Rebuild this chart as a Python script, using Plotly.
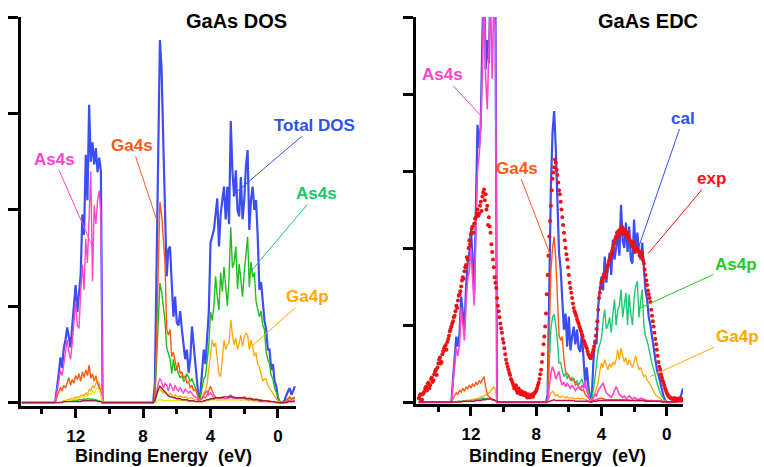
import numpy as np
import plotly.graph_objects as go

# Binding-energy grid (eV), 15.2 ... -1.0 in 0.1 eV steps
E = np.round(np.arange(152, -11, -1) / 10.0, 1)
# Experimental EDC energies: two interleaved sweeps
E_EXP = E
E_EXP2 = np.round(np.arange(1515, -96, -10) / 100.0, 2)   # 15.15 ... -0.95

# ---------------- GaAs DOS (left panel) ----------------
# each series: band1 = 13.2..10.4 eV, band2 = 7.4..4.6 eV, band3 = 4.5..-1.0 eV
dos_total_b1 = [0.02, 0.15, 0.30, 0.47, 0.36, 0.57, 0.65, 0.78, 0.65, 0.57, 0.80, 1.05, 1.22, 0.94, 1.10, 1.33, 1.95, 1.74, 2.57, 2.10, 3.09, 2.50, 2.70, 2.47, 2.64, 2.39, 2.54, 2.40, 0.0]
dos_total_b2 = [0.0, 0.2, 1.2, 2.6, 3.76, 3.45, 2.70, 2.0, 1.31, 1.59, 1.62, 1.24, 0.89, 1.10, 0.83, 0.80, 0.95, 0.76, 0.60, 0.45, 0.55, 0.31, 0.45, 0.79, 0.60, 0.40, 0.21, 0.03, 0.10]
dos_total_b3 = [0.35, 0.55, 0.40, 0.68, 0.95, 1.66, 1.72, 1.79, 1.95, 2.12,
                1.62, 1.95, 2.10, 2.24, 1.90, 2.24, 1.85, 2.92, 2.40, 2.14,
                2.41, 2.00, 1.93, 2.34, 1.90, 2.10, 2.45, 2.62, 1.79, 2.10,
                2.24, 2.00, 2.10, 1.72, 1.17, 1.25, 1.05, 0.85, 0.76, 0.55,
                0.55, 0.34, 0.40, 0.22, 0.17, 0.05, 0.0, 0.0, 0.0, 0.03,
                0.08, 0.12, 0.15, 0.08, 0.12, 0.17]

dos_as4s_b1 = [0.02, 0.12, 0.22, 0.33, 0.28, 0.42, 0.50, 0.65, 0.52, 0.45, 0.62, 0.85, 1.05, 0.80, 0.77, 1.15, 1.43, 1.17, 1.70, 1.45, 2.00, 2.40, 1.26, 2.05, 1.85, 2.10, 2.20, 1.95, 0.0]
dos_as4s_b2 = [0.0, 0.02, 0.12, 0.20, 0.25, 0.22, 0.15, 0.20, 0.18, 0.12, 0.20, 0.15, 0.12, 0.18, 0.14, 0.12, 0.16, 0.12, 0.10, 0.14, 0.12, 0.10, 0.12, 0.09, 0.07, 0.06, 0.05, 0.02, 0.03]
dos_as4s_b3 = [0.05, 0.08, 0.10, 0.12, 0.08, 0.10, 0.07, 0.05, 0.04, 0.03,
               0.03, 0.04, 0.03, 0.04, 0.03, 0.04, 0.05, 0.06, 0.05, 0.04,
               0.04, 0.03, 0.04, 0.03, 0.03, 0.04, 0.03, 0.03, 0.02, 0.03,
               0.02, 0.02, 0.02, 0.02, 0.01, 0.01, 0.01, 0.01, 0.01, 0.01,
               0.01, 0.01, 0.01, 0.0, 0.0, 0.0, 0.0, 0.0, 0.0, 0.0,
               0.01, 0.02, 0.02, 0.01, 0.02, 0.02]

dos_ga4s_b1 = [0.0, 0.06, 0.12, 0.16, 0.12, 0.18, 0.15, 0.22, 0.26, 0.18, 0.24, 0.20, 0.28, 0.24, 0.30, 0.22, 0.32, 0.26, 0.34, 0.28, 0.39, 0.25, 0.30, 0.22, 0.28, 0.20, 0.15, 0.10, 0.0]
dos_ga4s_b2 = [0.0, 0.05, 0.6, 1.4, 2.08, 1.95, 1.70, 1.45, 0.76, 0.70, 0.76, 0.48, 0.52, 0.44, 0.34, 0.42, 0.30, 0.32, 0.25, 0.28, 0.20, 0.22, 0.15, 0.18, 0.12, 0.14, 0.08, 0.04, 0.03]
dos_ga4s_b3 = [0.04, 0.06, 0.05, 0.08, 0.12, 0.17, 0.12, 0.08, 0.06, 0.05,
               0.04, 0.05, 0.06, 0.05, 0.04, 0.05, 0.07, 0.08, 0.06, 0.05,
               0.05, 0.04, 0.05, 0.04, 0.05, 0.06, 0.05, 0.04, 0.05, 0.04,
               0.04, 0.03, 0.04, 0.03, 0.03, 0.03, 0.02, 0.02, 0.02, 0.02,
               0.02, 0.01, 0.01, 0.01, 0.01, 0.01, 0.0, 0.0, 0.0, 0.01,
               0.03, 0.05, 0.06, 0.04, 0.05, 0.06]

dos_as4p_b1 = [0.0, 0.0, 0.0, 0.0, 0.01, 0.01, 0.01, 0.01, 0.02, 0.02, 0.02, 0.02, 0.03, 0.02, 0.03, 0.03, 0.03, 0.04, 0.03, 0.04, 0.04, 0.03, 0.04, 0.03, 0.03, 0.02, 0.02, 0.01, 0.0]
dos_as4p_b2 = [0.0, 0.03, 0.4, 0.9, 1.24, 1.15, 1.0, 0.85, 0.57, 0.52, 0.45, 0.30, 0.45, 0.33, 0.36, 0.30, 0.26, 0.28, 0.22, 0.24, 0.30, 0.26, 0.22, 0.25, 0.19, 0.15, 0.12, 0.03, 0.05]
dos_as4p_b3 = [0.15, 0.25, 0.27, 0.45, 0.60, 0.94, 0.85, 1.00, 1.31, 1.10,
               0.96, 1.35, 1.15, 1.41, 1.20, 1.00, 1.30, 1.82, 1.40, 1.45,
               1.62, 1.18, 1.44, 1.25, 1.10, 1.35, 1.55, 1.72, 1.20, 1.46,
               1.30, 1.35, 1.05, 0.95, 0.89, 0.95, 0.80, 0.76, 0.52, 0.45,
               0.40, 0.28, 0.25, 0.15, 0.10, 0.05, 0.02, 0.0, 0.0, 0.0,
               0.02, 0.04, 0.05, 0.03, 0.04, 0.05]

dos_ga4p_b1 = [0.0, 0.0, 0.0, 0.01, 0.01, 0.02, 0.02, 0.03, 0.03, 0.04, 0.04, 0.05, 0.05, 0.06, 0.06, 0.07, 0.08, 0.07, 0.10, 0.08, 0.14, 0.12, 0.18, 0.15, 0.20, 0.22, 0.20, 0.12, 0.0]
dos_ga4p_b2 = [0.0, 0.01, 0.06, 0.12, 0.14, 0.12, 0.10, 0.12, 0.09, 0.07, 0.10, 0.08, 0.06, 0.08, 0.07, 0.05, 0.07, 0.06, 0.05, 0.06, 0.05, 0.04, 0.05, 0.05, 0.04, 0.03, 0.03, 0.01, 0.02]
dos_ga4p_b3 = [0.05, 0.10, 0.12, 0.20, 0.35, 0.55, 0.65, 0.58, 0.62, 0.45,
               0.30, 0.27, 0.50, 0.65, 0.55, 0.60, 0.62, 0.86, 0.70, 0.60,
               0.67, 0.55, 0.62, 0.70, 0.58, 0.68, 0.72, 0.70, 0.55, 0.65,
               0.58, 0.48, 0.52, 0.40, 0.37, 0.30, 0.22, 0.25, 0.24, 0.18,
               0.15, 0.12, 0.10, 0.07, 0.04, 0.02, 0.01, 0.0, 0.0, 0.0,
               0.01, 0.02, 0.03, 0.02, 0.03, 0.03]

dos_yel_b1 = [0.0, 0.0, 0.0, 0.0, 0.01, 0.01, 0.01, 0.02, 0.02, 0.02, 0.03, 0.03, 0.04, 0.04, 0.05, 0.05, 0.06, 0.06, 0.07, 0.07, 0.09, 0.08, 0.12, 0.10, 0.14, 0.15, 0.13, 0.08, 0.0]
dos_yel_b2 = [0.0, 0.0, 0.01, 0.02, 0.03, 0.03, 0.02, 0.02, 0.02, 0.02, 0.02, 0.02, 0.02, 0.02, 0.02, 0.02, 0.02, 0.02, 0.02, 0.02, 0.01, 0.01, 0.01, 0.01, 0.01, 0.01, 0.01, 0.01, 0.01]
dos_yel_b3 = [0.01, 0.01, 0.02, 0.02, 0.02, 0.03, 0.03, 0.03, 0.03, 0.03,
              0.03, 0.03, 0.03, 0.03, 0.03, 0.03, 0.03, 0.03, 0.03, 0.03,
              0.03, 0.03, 0.03, 0.03, 0.03, 0.03, 0.03, 0.03, 0.03, 0.03,
              0.02, 0.02, 0.02, 0.02, 0.02, 0.02, 0.02, 0.02, 0.01, 0.01,
              0.01, 0.01, 0.01, 0.01, 0.01, 0.0, 0.0, 0.0, 0.0, 0.0,
              0.0, 0.0, 0.01, 0.01, 0.01, 0.01]

dos_mar_b1 = [0.0, 0.0, 0.0, 0.0, 0.0, 0.01, 0.01, 0.01, 0.01, 0.01, 0.01, 0.01, 0.01, 0.01, 0.01, 0.01, 0.02, 0.02, 0.02, 0.02, 0.02, 0.02, 0.02, 0.02, 0.02, 0.01, 0.01, 0.01, 0.0]
dos_mar_b2 = [0.0, 0.02, 0.08, 0.14, 0.17, 0.15, 0.12, 0.10, 0.08, 0.07, 0.06, 0.06, 0.05, 0.05, 0.04, 0.04, 0.04, 0.03, 0.03, 0.03, 0.03, 0.02, 0.02, 0.02, 0.02, 0.01, 0.01, 0.01, 0.01]
dos_mar_b3 = [0.01, 0.02, 0.02, 0.03, 0.03, 0.04, 0.04, 0.04, 0.05, 0.05,
              0.05, 0.05, 0.05, 0.06, 0.06, 0.06, 0.06, 0.06, 0.06, 0.06,
              0.05, 0.05, 0.05, 0.05, 0.05, 0.05, 0.04, 0.04, 0.04, 0.04,
              0.03, 0.03, 0.03, 0.03, 0.02, 0.02, 0.02, 0.02, 0.02, 0.01,
              0.01, 0.01, 0.01, 0.01, 0.0, 0.0, 0.0, 0.0, 0.0, 0.0,
              0.0, 0.01, 0.01, 0.01, 0.01, 0.01]

# ---------------- GaAs EDC (right panel) ----------------
edc_cal_b1 = [0.0, 0.3, 0.6, 0.85, 0.72, 0.9, 1.37, 1.15, 0.94, 1.5, 1.81, 1.95, 2.24, 1.85, 1.40, 2.5, 3.6, 3.3, 3.6, 4.75, 5.6, 4.32, 4.7, 4.4, 5.5, 5.0, 5.6, 5.3, 0.0]
edc_cal_b2 = [0.0, 0.1, 1.5, 2.8, 3.5, 3.78, 3.3, 2.6, 1.94, 1.72, 1.35, 0.94, 1.15, 0.72, 1.11, 0.67, 0.85, 0.98, 0.75, 0.94, 0.70, 0.65, 0.90, 0.55, 0.25, 0.45, 0.20, 0.07, 0.03]
edc_cal_b3 = [0.5, 0.81, 0.75, 1.24, 1.45, 1.63, 1.45, 1.89, 1.55, 1.75,
              1.94, 1.65, 2.11, 1.85, 2.0, 2.24, 1.9, 2.56, 2.1, 2.0,
              2.33, 1.95, 2.28, 1.85, 1.8, 2.37, 1.95, 2.2, 1.95, 1.85,
              2.07, 1.75, 1.45, 1.33, 1.1, 1.0, 0.85, 0.75, 0.55, 0.42,
              0.35, 0.25, 0.15, 0.08, 0.03, 0.0, 0.0, 0.0, 0.0, 0.02,
              0.04, 0.05, 0.06, 0.04, 0.10, 0.18]

edc_as4s_b1 = [0.0, 0.25, 0.5, 0.7, 0.6, 0.75, 1.23, 1.0, 0.8, 1.3, 1.6, 1.7, 2.0, 1.6, 1.25, 2.2, 3.0, 3.2, 3.6, 4.3, 5.4, 4.2, 3.8, 4.6, 5.3, 4.2, 5.2, 4.8, 0.0]
edc_as4s_b2 = [0.0, 0.02, 0.2, 0.38, 0.46, 0.40, 0.30, 0.35, 0.40, 0.28, 0.22, 0.26, 0.20, 0.24, 0.20, 0.18, 0.22, 0.18, 0.15, 0.18, 0.20, 0.16, 0.22, 0.18, 0.28, 0.15, 0.08, 0.03, 0.01]
edc_as4s_b3 = [0.05, 0.10, 0.08, 0.15, 0.18, 0.22, 0.25, 0.18, 0.12, 0.10,
               0.08, 0.06, 0.10, 0.15, 0.20, 0.15, 0.10, 0.08, 0.06, 0.08,
               0.05, 0.06, 0.08, 0.06, 0.04, 0.06, 0.05, 0.04, 0.03, 0.05,
               0.04, 0.03, 0.03, 0.02, 0.02, 0.02, 0.02, 0.01, 0.01, 0.01,
               0.01, 0.01, 0.0, 0.0, 0.0, 0.0, 0.0, 0.0, 0.0, 0.0,
               0.0, 0.0, 0.0, 0.0, 0.0, 0.0]

edc_ga4s_b1 = [0.0, 0.04, 0.08, 0.12, 0.10, 0.15, 0.13, 0.18, 0.14, 0.20, 0.17, 0.22, 0.18, 0.24, 0.20, 0.26, 0.22, 0.28, 0.25, 0.30, 0.33, 0.20, 0.10, 0.07, 0.05, 0.04, 0.03, 0.02, 0.0]
edc_ga4s_b2 = [0.0, 0.05, 0.9, 1.7, 2.0, 2.15, 1.85, 1.33, 0.87, 0.80, 0.85, 0.55, 0.40, 0.37, 0.33, 0.30, 0.28, 0.30, 0.22, 0.24, 0.20, 0.18, 0.15, 0.16, 0.10, 0.08, 0.06, 0.03, 0.01]
edc_ga4s_b3 = [0.02, 0.03, 0.04, 0.04, 0.05, 0.05, 0.04, 0.04, 0.03, 0.03,
               0.03, 0.03, 0.03, 0.03, 0.03, 0.03, 0.03, 0.03, 0.03, 0.03,
               0.03, 0.03, 0.02, 0.02, 0.02, 0.02, 0.02, 0.02, 0.02, 0.02,
               0.02, 0.02, 0.02, 0.01, 0.01, 0.01, 0.01, 0.01, 0.01, 0.01,
               0.01, 0.01, 0.0, 0.0, 0.0, 0.0, 0.0, 0.0, 0.0, 0.0,
               0.0, 0.01, 0.01, 0.02, 0.02, 0.02]

edc_as4p_b1 = [0.0, 0.0, 0.0, 0.0, 0.01, 0.01, 0.01, 0.01, 0.01, 0.02, 0.02, 0.02, 0.02, 0.03, 0.03, 0.03, 0.03, 0.04, 0.04, 0.05, 0.05, 0.04, 0.05, 0.04, 0.04, 0.03, 0.03, 0.02, 0.0]
edc_as4p_b2 = [0.0, 0.03, 0.5, 0.95, 1.1, 1.14, 1.0, 0.8, 0.5, 0.52, 0.40, 0.33, 0.38, 0.30, 0.36, 0.28, 0.32, 0.30, 0.25, 0.28, 0.22, 0.26, 0.30, 0.22, 0.18, 0.22, 0.12, 0.05, 0.02]
edc_as4p_b3 = [0.15, 0.30, 0.50, 0.68, 0.75, 0.83, 1.05, 1.2, 0.95, 1.0,
               1.1, 0.90, 1.15, 1.33, 1.0, 1.2, 1.25, 1.46, 1.10, 1.25,
               1.42, 1.0, 1.40, 1.15, 1.0, 1.35, 1.50, 1.57, 1.10, 1.30,
               1.46, 1.0, 0.85, 0.80, 0.68, 0.60, 0.50, 0.43, 0.35, 0.25,
               0.18, 0.12, 0.08, 0.04, 0.01, 0.0, 0.0, 0.0, 0.0, 0.0,
               0.01, 0.02, 0.02, 0.01, 0.02, 0.03]

edc_ga4p_b1 = [0.0, 0.0, 0.0, 0.0, 0.0, 0.0, 0.01, 0.01, 0.01, 0.02, 0.02, 0.02, 0.03, 0.03, 0.04, 0.04, 0.05, 0.05, 0.06, 0.07, 0.08, 0.08, 0.10, 0.12, 0.14, 0.17, 0.20, 0.15, 0.0]
edc_ga4p_b2 = [0.0, 0.01, 0.06, 0.12, 0.14, 0.12, 0.08, 0.10, 0.07, 0.06, 0.08, 0.06, 0.05, 0.07, 0.05, 0.05, 0.06, 0.05, 0.04, 0.05, 0.04, 0.04, 0.05, 0.04, 0.03, 0.03, 0.02, 0.01, 0.0]
edc_ga4p_b3 = [0.05, 0.12, 0.20, 0.25, 0.40, 0.51, 0.45, 0.55, 0.48, 0.42,
               0.50, 0.45, 0.52, 0.48, 0.55, 0.68, 0.55, 0.70, 0.60, 0.52,
               0.58, 0.48, 0.55, 0.50, 0.45, 0.52, 0.60, 0.50, 0.42, 0.45,
               0.38, 0.33, 0.35, 0.28, 0.26, 0.22, 0.16, 0.13, 0.10, 0.08,
               0.06, 0.04, 0.03, 0.02, 0.01, 0.0, 0.0, 0.0, 0.0, 0.0,
               0.0, 0.01, 0.01, 0.01, 0.01, 0.01]

edc_mar_b1 = [0.0, 0.0, 0.0, 0.0, 0.0, 0.0, 0.0, 0.01, 0.01, 0.01, 0.01, 0.01, 0.01, 0.01, 0.01, 0.02, 0.02, 0.02, 0.02, 0.03, 0.03, 0.03, 0.04, 0.04, 0.04, 0.03, 0.03, 0.02, 0.0]
edc_mar_b2 = [0.0, 0.0, 0.01, 0.02, 0.03, 0.03, 0.02, 0.02, 0.02, 0.02, 0.02, 0.02, 0.02, 0.02, 0.02, 0.02, 0.02, 0.02, 0.01, 0.01, 0.01, 0.01, 0.01, 0.01, 0.01, 0.01, 0.01, 0.0, 0.0]
edc_mar_b3 = [0.01, 0.01, 0.01, 0.02, 0.02, 0.02, 0.02, 0.02, 0.02, 0.02,
              0.02, 0.02, 0.02, 0.02, 0.02, 0.02, 0.02, 0.02, 0.02, 0.02,
              0.02, 0.02, 0.02, 0.02, 0.02, 0.02, 0.02, 0.02, 0.02, 0.02,
              0.02, 0.02, 0.01, 0.01, 0.01, 0.01, 0.01, 0.01, 0.01, 0.01,
              0.01, 0.01, 0.01, 0.0, 0.0, 0.0, 0.0, 0.0, 0.0, 0.0,
              0.0, 0.0, 0.01, 0.01, 0.01, 0.01]

# experimental EDC, sweep 1 (15.2 ... -1.0 eV)
edc_exp = [0.05, 0.10, 0.03, 0.12, 0.18, 0.15, 0.25, 0.22, 0.32, 0.28,
           0.40, 0.35, 0.50, 0.58, 0.52, 0.66, 0.72, 0.68, 0.82, 0.92,
           0.98, 1.05, 1.12, 1.25, 1.32, 1.40, 1.50, 1.62, 1.70, 1.78,
           1.85, 2.10, 2.18, 2.28, 2.32, 2.40, 2.50, 2.45, 2.60, 2.67,
           2.76, 2.70, 2.55, 2.40, 2.20, 1.95, 1.75, 1.55, 1.35, 1.18,
           1.02, 0.90, 0.77, 0.62, 0.50, 0.42, 0.35, 0.28, 0.22, 0.20,
           0.15, 0.18, 0.12, 0.14, 0.10, 0.12, 0.08, 0.10, 0.06, 0.09,
           0.07, 0.12, 0.15, 0.22, 0.30, 0.42, 0.62, 0.85, 1.15, 1.65,
           2.15, 2.55, 2.90, 3.05, 3.11, 2.95, 2.75, 2.60, 2.40, 2.20,
           2.00, 1.85, 1.65, 1.48, 1.35, 1.22, 1.15, 1.08, 1.02, 0.95,
           0.88, 0.80, 0.75, 0.70, 0.62, 0.58, 0.60, 0.68, 0.78, 0.95,
           1.20, 1.42, 1.55, 1.62, 1.65, 1.70, 1.78, 1.85, 1.92, 2.00,
           2.08, 2.15, 2.18, 2.22, 2.20, 2.25, 2.22, 2.18, 2.20, 2.12,
           2.08, 2.05, 2.00, 1.98, 2.00, 1.95, 1.92, 1.88, 1.80, 1.65,
           1.52, 1.40, 1.30, 1.12, 0.98, 0.82, 0.68, 0.52, 0.42, 0.32,
           0.25, 0.18, 0.12, 0.08, 0.06, 0.05, 0.04, 0.05, 0.03, 0.04,
           0.03, 0.04, 0.03]
# experimental EDC, sweep 2 (15.15 ... -0.95 eV)
edc_exp2 = [0.08, 0.02, 0.10, 0.14, 0.20, 0.24, 0.18, 0.30, 0.26, 0.36,
            0.42, 0.45, 0.55, 0.50, 0.62, 0.70, 0.74, 0.78, 0.86, 0.95,
            1.02, 1.10, 1.18, 1.22, 1.38, 1.44, 1.58, 1.60, 1.75, 1.88,
            2.00, 2.05, 2.25, 2.20, 2.38, 2.45, 2.42, 2.55, 2.48, 2.72,
            2.62, 2.50, 2.30, 2.28, 2.05, 1.85, 1.62, 1.48, 1.25, 1.10,
            0.96, 0.82, 0.70, 0.55, 0.46, 0.38, 0.30, 0.25, 0.18, 0.22,
            0.12, 0.16, 0.10, 0.13, 0.09, 0.11, 0.06, 0.08, 0.07, 0.10,
            0.10, 0.13, 0.18, 0.25, 0.36, 0.52, 0.75, 0.98, 1.40, 1.90,
            2.35, 2.75, 2.98, 3.15, 3.02, 2.85, 2.70, 2.50, 2.30, 2.10,
            1.92, 1.75, 1.55, 1.42, 1.28, 1.18, 1.12, 1.05, 0.98, 0.92,
            0.85, 0.78, 0.72, 0.66, 0.60, 0.57, 0.64, 0.72, 0.86, 1.05,
            1.35, 1.48, 1.58, 1.66, 1.62, 1.75, 1.82, 1.88, 1.96, 2.05,
            2.12, 2.20, 2.15, 2.24, 2.28, 2.18, 2.24, 2.15, 2.16, 2.10,
            2.02, 2.08, 1.95, 2.02, 1.96, 1.90, 1.95, 1.84, 1.72, 1.58,
            1.45, 1.35, 1.20, 1.05, 0.90, 0.75, 0.60, 0.46, 0.36, 0.28,
            0.22, 0.15, 0.10, 0.07, 0.05, 0.04, 0.05, 0.03, 0.04, 0.03,
            0.05, 0.03]

X_TICKS = [0, 4, 8, 12]
X_MINOR = [2, 6, 10, 14]


def full(b1, b2, b3):
    assert len(b1) == 29 and len(b2) == 29 and len(b3) == 56, (len(b1), len(b2), len(b3))
    return [0.0] * 20 + list(b1) + [0.0] * 29 + list(b2) + list(b3)


assert len(edc_exp) == len(E_EXP)
assert len(edc_exp2) == len(E_EXP2), (len(edc_exp2), len(E_EXP2))

BLUE = "#3c4ef2"
MAG = "#ff45cc"
RED_OR = "#ff5a14"
GREEN = "#1ebe1e"
GREEN2 = "#1ec873"
ORANGE = "#ffa800"
YELLOW = "#e8e800"
MAROON = "#9a2040"
EXPRED = "#ee1111"
FONT = "Liberation Sans, Arial, sans-serif"

fig = go.Figure()

left = [
    (full(dos_total_b1, dos_total_b2, dos_total_b3), BLUE, 2.2),
    (full(dos_as4p_b1, dos_as4p_b2, dos_as4p_b3), GREEN, 1.4),
    (full(dos_ga4p_b1, dos_ga4p_b2, dos_ga4p_b3), ORANGE, 1.3),
    (full(dos_ga4s_b1, dos_ga4s_b2, dos_ga4s_b3), RED_OR, 1.4),
    (full(dos_as4s_b1, dos_as4s_b2, dos_as4s_b3), MAG, 1.4),
    (full(dos_yel_b1, dos_yel_b2, dos_yel_b3), YELLOW, 1.3),
    (full(dos_mar_b1, dos_mar_b2, dos_mar_b3), MAROON, 1.4),
]
for ys, col, w in left:
    fig.add_trace(go.Scatter(x=E, y=ys, mode="lines", line=dict(color=col, width=w),
                             xaxis="x", yaxis="y", showlegend=False, hoverinfo="skip"))

right = [
    (full(edc_cal_b1, edc_cal_b2, edc_cal_b3), BLUE, 2.2),
    (full(edc_as4p_b1, edc_as4p_b2, edc_as4p_b3), GREEN2, 1.4),
    (full(edc_ga4p_b1, edc_ga4p_b2, edc_ga4p_b3), ORANGE, 1.3),
    (full(edc_ga4s_b1, edc_ga4s_b2, edc_ga4s_b3), RED_OR, 1.4),
    (full(edc_as4s_b1, edc_as4s_b2, edc_as4s_b3), MAG, 1.6),
    (full(edc_mar_b1, edc_mar_b2, edc_mar_b3), "#c0104a", 1.4),
]
for ys, col, w in right:
    fig.add_trace(go.Scatter(x=E, y=ys, mode="lines", line=dict(color=col, width=w),
                             xaxis="x2", yaxis="y2", showlegend=False, hoverinfo="skip"))

for ex, ey in [(E_EXP, edc_exp), (E_EXP2, edc_exp2)]:
    fig.add_trace(go.Scatter(x=ex, y=ey, mode="markers",
                             marker=dict(color=EXPRED, size=4, line=dict(width=0)),
                             xaxis="x2", yaxis="y2", showlegend=False, hoverinfo="skip"))

W, H = 764, 467


def xaxis_cfg(dom, rng, anchor):
    return dict(domain=dom, range=rng, anchor=anchor, showline=True, linewidth=3,
                linecolor="black", showgrid=False, zeroline=False,
                ticks="outside", tickvals=X_TICKS, ticklen=9, tickwidth=2.5,
                tickcolor="black",
                minor=dict(tickvals=X_MINOR, ticks="outside", ticklen=5,
                           tickwidth=2.5, tickcolor="black"),
                tickfont=dict(family=FONT, size=17, color="black", weight="bold"),
                ticklabelstandoff=4)


def yaxis_cfg(dom, rng, anchor, nt):
    return dict(domain=dom, range=rng, anchor=anchor, showline=True, linewidth=3,
                linecolor="black", showgrid=False, zeroline=False,
                ticks="outside", tickvals=list(range(nt)), ticklen=10, tickwidth=3,
                tickcolor="black", showticklabels=False)


fig.update_layout(
    width=W, height=H,
    margin=dict(l=0, r=0, t=0, b=0),
    paper_bgcolor="white", plot_bgcolor="white",
    xaxis=xaxis_cfg([21 / W, 296 / W], [15.24, -1.07], "y"),
    yaxis=yaxis_cfg([1 - 406 / H, 1 - 17 / H], [-0.035, 4.0], "x", 5),
    xaxis2=xaxis_cfg([416 / W, 683 / W], [15.37, -1.0], "y2"),
    yaxis2=yaxis_cfg([1 - 404 / H, 1 - 17 / H], [-0.025, 5.0], "x2", 6),
)

ann = []
# titles
for txt, xc in [("GaAs DOS", 237), ("GaAs EDC", 648)]:
    ann.append(dict(text=txt, xref="paper", yref="paper", x=xc / W, y=1 - 21 / H,
                    xanchor="center", yanchor="middle", showarrow=False,
                    font=dict(family=FONT, size=20, color="black", weight="bold")))
for xc in [163, 557]:
    ann.append(dict(text="Binding Energy\u00a0 (eV)", xref="paper", yref="paper",
                    x=xc / W, y=1 - 456 / H, xanchor="center", yanchor="middle",
                    showarrow=False,
                    font=dict(family=FONT, size=18, color="black", weight="bold")))

# labels with leader lines: (text, color, xref, yref, tipE, tipV, dx, dy)
labels = [
    ("As4s", MAG, "x", "y", 10.95, 1.60, -39, -89),
    ("Ga4s", RED_OR, "x", "y", 7.18, 1.89, -25, -75),
    ("Total DOS", "#2a52f0", "x", "y", 2.69, 2.15, 82, -70),
    ("As4s", "#14c864", "x", "y", 1.62, 1.36, 66, -78),
    ("Ga4p", ORANGE, "x", "y", 1.66, 0.57, 58, -51),
    ("As4s", MAG, "x2", "y2", 11.45, 3.73, -37, -40),
    ("Ga4s", RED_OR, "x2", "y2", 7.15, 1.92, -33, -86),
    ("cal", "#2a52f0", "x2", "y2", 1.74, 2.00, 45, -130),
    ("exp", "#ff1010", "x2", "y2", 1.13, 1.93, 63, -75),
    ("As4p", "#22cc22", "x2", "y2", 1.64, 1.22, 96, -44),
    ("Ga4p", ORANGE, "x2", "y2", 1.02, 0.33, 87, -40),
]
for txt, col, xr, yr, tx, ty, dx, dy in labels:
    ann.append(dict(text=txt, xref=xr, yref=yr, x=tx, y=ty, ax=dx, ay=dy,
                    axref="pixel", ayref="pixel", showarrow=True, arrowhead=0,
                    arrowwidth=1, arrowcolor=col, standoff=0,
                    font=dict(family=FONT, size=17, color=col, weight="bold")))

fig.update_layout(annotations=ann)
fig.write_html("out.html")
